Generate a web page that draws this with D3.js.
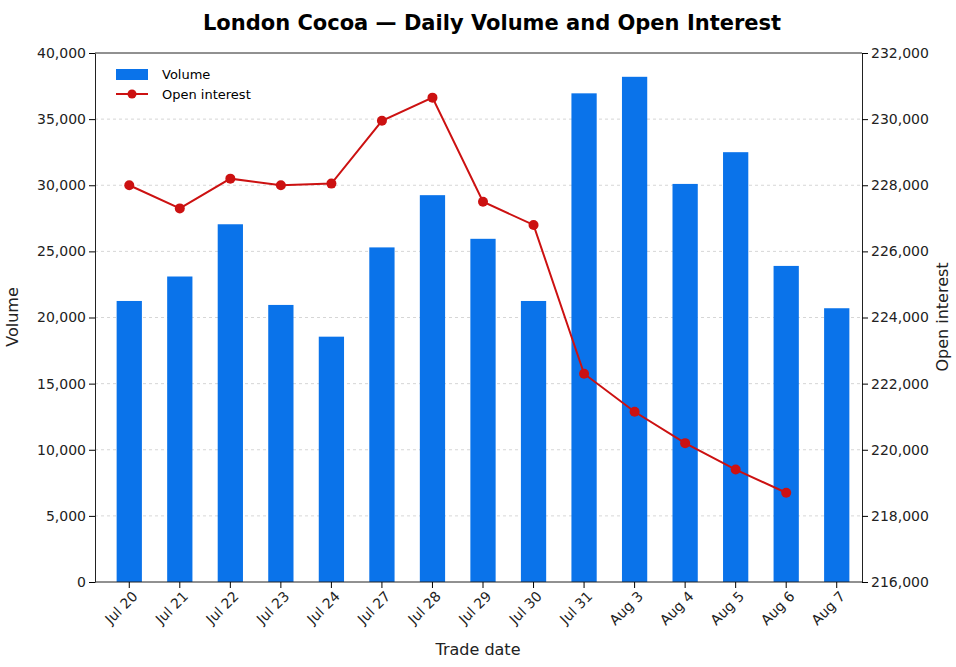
<!DOCTYPE html>
<html>
<head>
<meta charset="utf-8">
<script src="https://d3js.org/d3.v7.min.js"></script>
<style>
  body { margin: 0; background: #fff; }
  text { font-family: "DejaVu Sans", sans-serif; }
</style>
</head>
<body>
<svg id="chart" width="956" height="667"></svg>
<script>
// data
var dates = ["Jul 20","Jul 21","Jul 22","Jul 23","Jul 24","Jul 27","Jul 28","Jul 29","Jul 30","Jul 31","Aug 3","Aug 4","Aug 5","Aug 6","Aug 7"];
var volume = [21250, 23100, 27050, 20950, 18550, 25300, 29250, 25950, 21250, 36950, 38200, 30100, 32500, 23900, 20700];
var openInterest = [228000, 227300, 228200, 228000, 228050, 229950, 230650, 227500, 226800, 222300, 221150, 220200, 219400, 218700, null];
var volTicks = d3.range(0, 40001, 5000);
var oiTicks = d3.range(216000, 232001, 2000);

var svg = d3.select("#chart");
var pLeft = 95, pRight = 862, pTop = 53, pBottom = 582;

var x = d3.scaleBand().domain(dates).range([104, pRight]).paddingInner(0.5).paddingOuter(0.25);
var yV = d3.scaleLinear().domain([0, 40000]).range([pBottom, pTop]);
var yO = d3.scaleLinear().domain([216000, 232000]).range([pBottom, pTop]);
var fmt = d3.format(",");

// grid
svg.append("g").selectAll("line").data(volTicks.slice(1, -1)).enter().append("line")
  .attr("x1", pLeft).attr("x2", pRight)
  .attr("y1", d => yV(d)).attr("y2", d => yV(d))
  .style("stroke", "#ccc").style("stroke-dasharray", "3,3").style("stroke-width", 0.8);

// bars
svg.append("g").selectAll("rect").data(volume).enter().append("rect")
  .attr("x", (d, i) => x(dates[i]))
  .attr("width", x.bandwidth())
  .attr("y", d => yV(d))
  .attr("height", d => pBottom - yV(d))
  .style("fill", "#0a73ea");

// line
var pts = openInterest.map((d, i) => [x(dates[i]) + x.bandwidth() / 2, d]).filter(p => p[1] != null);
svg.append("path")
  .attr("d", d3.line().x(p => p[0]).y(p => yO(p[1]))(pts))
  .style("fill", "none").style("stroke", "#cc1111").style("stroke-width", 2);
svg.append("g").selectAll("circle").data(pts).enter().append("circle")
  .attr("cx", p => p[0]).attr("cy", p => yO(p[1])).attr("r", 5)
  .style("fill", "#cc1111");

// axes
var axL = svg.append("g").attr("transform", "translate(" + pLeft + ",0)")
  .call(d3.axisLeft(yV).tickValues(volTicks).tickFormat(fmt).tickSizeOuter(0));
var axR = svg.append("g").attr("transform", "translate(" + pRight + ",0)")
  .call(d3.axisRight(yO).tickValues(oiTicks).tickFormat(fmt).tickSizeOuter(0));
var axB = svg.append("g").attr("transform", "translate(0," + pBottom + ")")
  .call(d3.axisBottom(x).tickSizeOuter(0));
axB.select(".domain").attr("d", "M" + pLeft + ",0H" + pRight);
[axL, axR, axB].forEach(a => {
  a.selectAll("text").style("font-size", "14px").style("fill", "#222");
  a.select(".domain").style("stroke", "#222");
});
axB.selectAll("text").attr("transform", "rotate(-45)").style("text-anchor", "end")
  .attr("dx", "-0.3em").attr("dy", "0.6em");
svg.append("line").attr("x1", pLeft).attr("x2", pRight).attr("y1", pTop).attr("y2", pTop).style("stroke", "#222");

// titles
svg.append("text").attr("x", 492).attr("y", 30).attr("text-anchor", "middle")
  .style("font-size", "21px").style("font-weight", "bold").text("London Cocoa — Daily Volume and Open Interest");
svg.append("text").attr("x", 478).attr("y", 655).attr("text-anchor", "middle")
  .style("font-size", "16px").style("fill", "#222").text("Trade date");
svg.append("text").attr("transform", "translate(18,317) rotate(-90)").attr("text-anchor", "middle")
  .style("font-size", "16px").style("fill", "#222").text("Volume");
svg.append("text").attr("transform", "translate(948,317) rotate(-90)").attr("text-anchor", "middle")
  .style("font-size", "16px").style("fill", "#222").text("Open interest");

// legend
var lg = svg.append("g").attr("transform", "translate(116,74)");
lg.append("rect").attr("x", 0).attr("y", -5).attr("width", 32).attr("height", 11).style("fill", "#0a73ea");
lg.append("text").attr("x", 46).attr("y", 5).style("font-size", "13px").text("Volume");
lg.append("line").attr("x1", 0).attr("x2", 32).attr("y1", 20).attr("y2", 20).style("stroke", "#cc1111").style("stroke-width", 2);
lg.append("circle").attr("cx", 16).attr("cy", 20).attr("r", 4.5).style("fill", "#cc1111");
lg.append("text").attr("x", 46).attr("y", 25).style("font-size", "13px").text("Open interest");
</script>
</body>
</html>
